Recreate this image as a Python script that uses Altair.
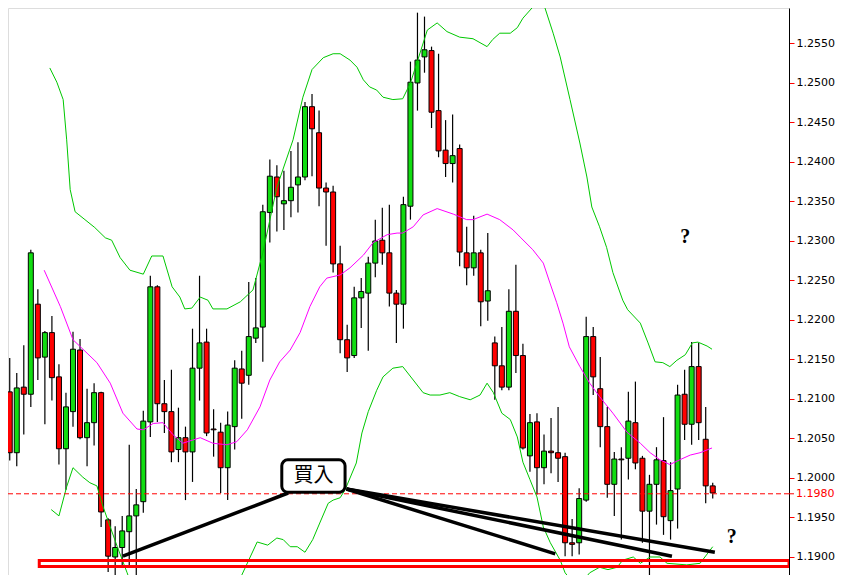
import altair as alt
import pandas as pd

# ---- candle data (bar index 0..101) ----
opens = [1.2109, 1.2109, 1.2032, 1.2115, 1.2106, 1.2220, 1.2153, 1.2184, 1.2128, 1.2037,
         1.2084, 1.2162, 1.2051, 1.2070, 1.2108, 1.1947, 1.1900, 1.1912, 1.1932, 1.1952,
         1.1970, 1.2071, 1.2242, 1.2094, 1.2084, 1.2036, 1.2051, 1.2033, 1.2139, 1.2172,
         1.2062, 1.2058, 1.2013, 1.2065, 1.2138, 1.2130, 1.2177, 1.2191, 1.2336, 1.2381,
         1.2347, 1.2351, 1.2371, 1.2381, 1.2470, 1.2437, 1.2367, 1.2362, 1.2271, 1.2175,
         1.2155, 1.2228, 1.2234, 1.2272, 1.2301, 1.2285, 1.2234, 1.2220, 1.2344, 1.2500,
         1.2533, 1.2541, 1.2465, 1.2415, 1.2398, 1.2417, 1.2285, 1.2266, 1.2285, 1.2224,
         1.2171, 1.2142, 1.2115, 1.2211, 1.2155, 1.2028, 1.2071, 1.2013, 1.2034, 1.2032,
         1.2027, 1.1918, 1.1918, 1.1972, 1.2179, 1.2113, 1.2065, 1.1992, 1.2024, 1.2025,
         1.2070, 1.2025, 1.1958, 1.1992, 1.2022, 1.1946, 1.1986, 1.2106, 1.2068, 1.2141,
         1.2049, 1.1990]
highs = [1.2120, 1.2152, 1.2133, 1.2168, 1.2289, 1.2239, 1.2186, 1.2205, 1.2144, 1.2108,
         1.2185, 1.2176, 1.2113, 1.2120, 1.2109, 1.1949, 1.1939, 1.1952, 1.2042, 1.1986,
         1.2085, 1.2256, 1.2244, 1.2124, 1.2137, 1.2089, 1.2065, 1.2189, 1.2256, 1.2189,
         1.2087, 1.2070, 1.2084, 1.2149, 1.2161, 1.2248, 1.2253, 1.2346, 1.2403, 1.2396,
         1.2389, 1.2414, 1.2425, 1.2476, 1.2486, 1.2465, 1.2374, 1.2370, 1.2294, 1.2194,
         1.2242, 1.2253, 1.2280, 1.2327, 1.2342, 1.2346, 1.2238, 1.2356, 1.2527, 1.2589,
         1.2584, 1.2546, 1.2537, 1.2453, 1.2460, 1.2422, 1.2318, 1.2332, 1.2289, 1.2310,
         1.2179, 1.2191, 1.2239, 1.2270, 1.2170, 1.2081, 1.2082, 1.2055, 1.2076, 1.2090,
         1.2032, 1.1948, 1.1987, 1.2204, 1.2191, 1.2153, 1.2090, 1.2033, 1.2039, 1.2109,
         1.2122, 1.2028, 1.2004, 1.2039, 1.2077, 1.2020, 1.2118, 1.2137, 1.2172, 1.2171,
         1.2090, 1.1994]
lows = [1.2027, 1.2022, 1.2015, 1.2055, 1.2090, 1.2124, 1.2068, 1.2098, 1.2017, 1.1985,
        1.2065, 1.2049, 1.2015, 1.2041, 1.1938, 1.1881, 1.1877, 1.1890, 1.1887, 1.1877,
        1.1956, 1.2052, 1.2071, 1.2057, 1.2020, 1.2020, 1.1972, 1.1995, 1.2098, 1.2053,
        1.2027, 1.1981, 1.1972, 1.2036, 1.2075, 1.2118, 1.2171, 1.2147, 1.2298, 1.2312,
        1.2314, 1.2330, 1.2336, 1.2377, 1.2382, 1.2344, 1.2294, 1.2260, 1.2158, 1.2134,
        1.2152, 1.2190, 1.2161, 1.2254, 1.2270, 1.2217, 1.2171, 1.2189, 1.2327, 1.2465,
        1.2513, 1.2443, 1.2406, 1.2381, 1.2374, 1.2268, 1.2244, 1.2256, 1.2192, 1.2199,
        1.2099, 1.2111, 1.2111, 1.2133, 1.2036, 1.2008, 1.1979, 1.1992, 1.2006, 1.1995,
        1.1901, 1.1901, 1.1903, 1.1970, 1.2105, 1.2039, 1.1975, 1.1952, 1.1922, 1.1998,
        1.2011, 1.1918, 1.1877, 1.1941, 1.1928, 1.1922, 1.1936, 1.2048, 1.2042, 1.2048,
        1.1968, 1.1974]
closes = [1.2110, 1.2032, 1.2114, 1.2106, 1.2285, 1.2152, 1.2184, 1.2127, 1.2037, 1.2090,
          1.2163, 1.2051, 1.2070, 1.2108, 1.1957, 1.1901, 1.1912, 1.1933, 1.1952, 1.1966,
          1.2072, 1.2242, 1.2094, 1.2084, 1.2033, 1.2051, 1.2033, 1.2139, 1.2171, 1.2057,
          1.2061, 1.2013, 1.2067, 1.2139, 1.2120, 1.2179, 1.2190, 1.2337, 1.2382, 1.2356,
          1.2351, 1.2368, 1.2381, 1.2470, 1.2442, 1.2367, 1.2362, 1.2271, 1.2175, 1.2152,
          1.2228, 1.2236, 1.2272, 1.2300, 1.2285, 1.2234, 1.2220, 1.2346, 1.2501, 1.2529,
          1.2542, 1.2463, 1.2414, 1.2398, 1.2408, 1.2286, 1.2266, 1.2285, 1.2223, 1.2237,
          1.2142, 1.2115, 1.2211, 1.2155, 1.2038, 1.2070, 1.2013, 1.2034, 1.2032, 1.2025,
          1.1918, 1.1916, 1.1974, 1.2179, 1.2128, 1.2065, 1.1992, 1.2024, 1.2023, 1.2072,
          1.2019, 1.1958, 1.1992, 1.2023, 1.1951, 1.1984, 1.2105, 1.2068, 1.2141, 1.2070,
          1.1990, 1.1981]

# ---- Bollinger bands (bar position, price) ----
mid_pos = [5.9, 8.2, 10.0, 12.0, 13.4, 15.3, 17.1, 19.1, 20.0, 21.4, 22.8, 24.2, 25.6, 28.1,
           29.9, 31.9, 33.3, 34.8, 36.6, 38.0, 39.4, 40.9, 42.3, 43.7, 45.1, 46.1, 48.0, 49.4,
           51.3, 52.7, 54.7, 56.1, 56.9, 58.4, 59.8, 61.8, 64.1, 66.0, 66.9, 68.9, 70.7, 72.6,
           73.6, 75.4, 76.9, 77.8, 78.8, 79.7, 80.6, 82.1, 83.5, 84.9, 86.8, 88.8, 90.7, 92.1,
           93.5, 94.9, 96.3, 97.8, 99.2, 100.9]
mid_val = [1.2263, 1.2217, 1.2175, 1.2158, 1.2146, 1.2120, 1.2082, 1.2062, 1.2061, 1.2069,
           1.2070, 1.2055, 1.2044, 1.2051, 1.2044, 1.2042, 1.2046, 1.2061, 1.2090, 1.2124,
           1.2147, 1.2162, 1.2184, 1.2217, 1.2242, 1.2253, 1.2257, 1.2266, 1.2282, 1.2298,
           1.2308, 1.2310, 1.2310, 1.2318, 1.2333, 1.2341, 1.2334, 1.2327, 1.2327, 1.2334,
           1.2327, 1.2314, 1.2305, 1.2289, 1.2272, 1.2248, 1.2222, 1.2196, 1.2166, 1.2141,
           1.2120, 1.2103, 1.2082, 1.2058, 1.2044, 1.2032, 1.2023, 1.2017, 1.2023, 1.2029,
           1.2032, 1.2038]
up_pos = [6.7, 7.7, 8.6, 9.1, 9.6, 10.3, 11.7, 13.1, 14.6, 15.5, 16.7, 18.1, 20.0, 21.2, 22.8,
          24.1, 25.2, 25.9, 26.9, 28.1, 29.2, 29.9, 31.9, 33.8, 35.6, 37.0, 39.0, 41.3, 42.7,
          44.0, 45.6, 47.0, 48.0, 49.4, 50.4, 51.3, 52.2, 53.2, 54.1, 55.5, 56.9, 58.0, 58.9,
          60.4, 61.8, 63.2, 65.0, 66.9, 68.9, 69.7, 70.7, 72.2, 73.2, 74.0, 75.4, 76.2, 77.1,
          78.3, 79.3, 80.7, 82.1, 83.1, 83.8, 84.9, 85.9, 86.8, 88.2, 88.9, 90.7, 91.8, 92.8,
          93.9, 94.9, 95.9, 97.1, 98.1, 98.9, 100.2, 100.9]
up_val = [1.2519, 1.2501, 1.2479, 1.2428, 1.2365, 1.2337, 1.2327, 1.2317, 1.2304, 1.2301,
          1.2279, 1.2263, 1.2258, 1.2281, 1.2281, 1.2242, 1.2229, 1.2214, 1.2215, 1.2229,
          1.2225, 1.2214, 1.2214, 1.2223, 1.2238, 1.2285, 1.2368, 1.2428, 1.2482, 1.2517,
          1.2532, 1.2537, 1.2537, 1.2529, 1.2520, 1.2504, 1.2495, 1.2491, 1.2482, 1.2479,
          1.2480, 1.2500, 1.2525, 1.2567, 1.2576, 1.2565, 1.2558, 1.2556, 1.2546, 1.2555,
          1.2563, 1.2563, 1.2570, 1.2582, 1.2596, 1.2615, 1.2596, 1.2563, 1.2533, 1.2479,
          1.2424, 1.2381, 1.2343, 1.2318, 1.2292, 1.2260, 1.2225, 1.2213, 1.2196, 1.2171,
          1.2147, 1.2146, 1.2141, 1.2149, 1.2156, 1.2171, 1.2172, 1.2167, 1.2163]
lo_pos = [6.9, 8.0, 9.1, 10.0, 11.4, 12.4, 13.4, 14.3, 15.3, 16.3, 17.7, 18.8, 22.4, 28.1,
          31.6, 34.0, 36.2, 37.7, 39.0, 39.9, 40.9, 41.9, 43.0, 44.1, 45.1, 46.3, 47.0, 48.0,
          48.7, 50.3, 51.1, 52.0, 53.2, 54.1, 55.5, 56.9, 58.4, 59.8, 60.8, 62.2, 63.6, 65.0,
          66.5, 67.9, 68.9, 69.8, 71.0, 72.2, 73.2, 74.0, 75.0, 76.0, 76.9, 77.9, 79.3, 80.0,
          81.7, 83.5, 84.9, 86.1, 87.4, 88.2, 89.7, 90.7, 92.1, 93.5, 94.5, 97.3, 99.2, 101.0]
lo_val = [1.1960, 1.1952, 1.1989, 1.2013, 1.2001, 1.1994, 1.1990, 1.1963, 1.1938, 1.1913,
          1.1880, 1.1852, 1.1820, 1.1814, 1.1846, 1.1877, 1.1919, 1.1915, 1.1924, 1.1922,
          1.1913, 1.1913, 1.1906, 1.1922, 1.1943, 1.1968, 1.1972, 1.1975, 1.1985, 1.2019,
          1.2057, 1.2084, 1.2111, 1.2128, 1.2139, 1.2141, 1.2124, 1.2108, 1.2105, 1.2105,
          1.2108, 1.2103, 1.2099, 1.2105, 1.2120, 1.2108, 1.2082, 1.2074, 1.2052, 1.2020,
          1.1998, 1.1976, 1.1938, 1.1918, 1.1896, 1.1880, 1.1861, 1.1880, 1.1887, 1.1884,
          1.1887, 1.1896, 1.1900, 1.1892, 1.1900, 1.1900, 1.1892, 1.1890, 1.1892, 1.1913]

y_ticks = [1.1900, 1.1950, 1.2000, 1.2050, 1.2100, 1.2150, 1.2200, 1.2250, 1.2300,
           1.2350, 1.2400, 1.2450, 1.2500, 1.2550]
last_price = 1.1980

# ---- hand-drawn annotations (bar position, price) ----
arrow_x1 = [40.6, 48.9, 48.9, 48.9]
arrow_y1 = [1.1981, 1.1986, 1.1986, 1.1986]
arrow_x2 = [17.1, 78.6, 95.2, 101.3]
arrow_y2 = [1.1901, 1.1904, 1.1901, 1.1906]
box_x = [39.7, 48.7]
box_y = [1.2023, 1.1982]
box_label = "買入"
zone_x = [5.2, 111.85]
zone_y = [1.18956, 1.18880]
q_pos = [97.1, 103.7]
q_val = [1.2305, 1.1925]

W, H = 781, 567
XDOM = [0.754, 111.849]
YDOM = [1.18772, 1.25949]
GREEN_BODY = "#11dd11"
BAND_GREEN = "#00c800"

xs = alt.Scale(domain=XDOM, nice=False, zero=False, padding=0)
ys = alt.Scale(domain=YDOM, nice=False, zero=False, padding=0)

candles = pd.DataFrame({
    "i": list(range(len(opens))), "open": opens, "high": highs, "low": lows, "close": closes,
})
candles["fill"] = [GREEN_BODY if c >= o else "#ff0000" for o, c in zip(opens, closes)]

X = alt.X("i:Q", scale=xs, axis=None)

wicks = alt.Chart(candles).mark_rule(color="black", strokeWidth=1.2, clip=True).encode(
    x=X,
    y=alt.Y("low:Q", scale=ys, title=None,
            axis=alt.Axis(orient="right", values=y_ticks, format=".4f", grid=False,
                          labelFont="DejaVu Sans", labelFontSize=11, labelColor="black",
                          tickColor="red", tickSize=5, labelPadding=2, domainColor="black",
                          labelFlush=False)),
    y2="high:Q",
)
bodies = alt.Chart(candles).mark_bar(size=5, stroke="black", strokeWidth=1, clip=True).encode(
    x=X,
    y=alt.Y("open:Q", scale=ys),
    y2="close:Q",
    fill=alt.Fill("fill:N", scale=None),
)

def band(pos, val, color):
    df = pd.DataFrame({"p": pos, "v": val})
    return alt.Chart(df).mark_line(color=color, strokeWidth=1, clip=True).encode(
        x=alt.X("p:Q", scale=xs, axis=None),
        y=alt.Y("v:Q", scale=ys),
        order="p:Q",
    )

mid = band(mid_pos, mid_val, "#ff00ff")
up = band(up_pos, up_val, BAND_GREEN)
lo = band(lo_pos, lo_val, BAND_GREEN)

lp_df = pd.DataFrame({"v": [last_price], "t": [f"{last_price:.4f}"]})
last_line = alt.Chart(lp_df).mark_rule(color="red", strokeWidth=1, strokeDash=[5, 3]).encode(
    y=alt.Y("v:Q", scale=ys), x=alt.value(0), x2=alt.value(W))
last_tick = alt.Chart(lp_df).mark_rule(color="red", strokeWidth=1).encode(
    y=alt.Y("v:Q", scale=ys), x=alt.value(W), x2=alt.value(W + 5))
last_lbl = alt.Chart(lp_df).mark_text(color="red", font="DejaVu Sans", fontSize=11,
                                      align="left", baseline="middle").encode(
    y=alt.Y("v:Q", scale=ys), x=alt.value(W + 7), text="t:N")

zone_df = pd.DataFrame({"x": [zone_x[0]], "x2": [zone_x[1]], "y": [zone_y[0]], "y2": [zone_y[1]]})
zone = alt.Chart(zone_df).mark_rect(fillOpacity=0, stroke="red", strokeWidth=3, clip=True).encode(
    x=alt.X("x:Q", scale=xs, axis=None), x2="x2:Q",
    y=alt.Y("y:Q", scale=ys), y2="y2:Q")

arr_df = pd.DataFrame({"x": arrow_x1, "y": arrow_y1, "x2": arrow_x2, "y2": arrow_y2})
arrows = alt.Chart(arr_df).mark_rule(color="black", strokeWidth=3.5, clip=True).encode(
    x=alt.X("x:Q", scale=xs, axis=None), x2="x2:Q",
    y=alt.Y("y:Q", scale=ys), y2="y2:Q")

box_df = pd.DataFrame({"x": [box_x[0]], "x2": [box_x[1]], "y": [box_y[0]], "y2": [box_y[1]],
                       "xc": [(box_x[0] + box_x[1]) / 2], "yc": [(box_y[0] + box_y[1]) / 2],
                       "t": [box_label]})
box = alt.Chart(box_df).mark_rect(fill="white", stroke="black", strokeWidth=3,
                                  cornerRadius=6).encode(
    x=alt.X("x:Q", scale=xs, axis=None), x2="x2:Q",
    y=alt.Y("y:Q", scale=ys), y2="y2:Q")
box_txt = alt.Chart(box_df).mark_text(font="Noto Sans CJK TC", fontSize=20, color="black",
                                      baseline="middle", align="center").encode(
    x=alt.X("xc:Q", scale=xs, axis=None), y=alt.Y("yc:Q", scale=ys), text="t:N")

q_df = pd.DataFrame({"p": q_pos, "v": q_val, "t": ["?", "?"]})
qs = alt.Chart(q_df).mark_text(font="Liberation Serif", fontSize=20, fontWeight="bold",
                               color="black", baseline="middle", align="center").encode(
    x=alt.X("p:Q", scale=xs, axis=None), y=alt.Y("v:Q", scale=ys), text="t:N")

chart = alt.layer(
    wicks, bodies, mid, up, lo, last_line, zone, arrows, box, box_txt, qs,
    last_tick, last_lbl,
).properties(
    width=W, height=H,
    autosize=alt.AutoSizeParams(type="none"),
    padding={"left": 0, "top": 0, "right": 52, "bottom": 0},
).configure_view(strokeWidth=0).configure(background="white")

chart.save("out.html", embed_options={"renderer": "svg", "actions": False})
